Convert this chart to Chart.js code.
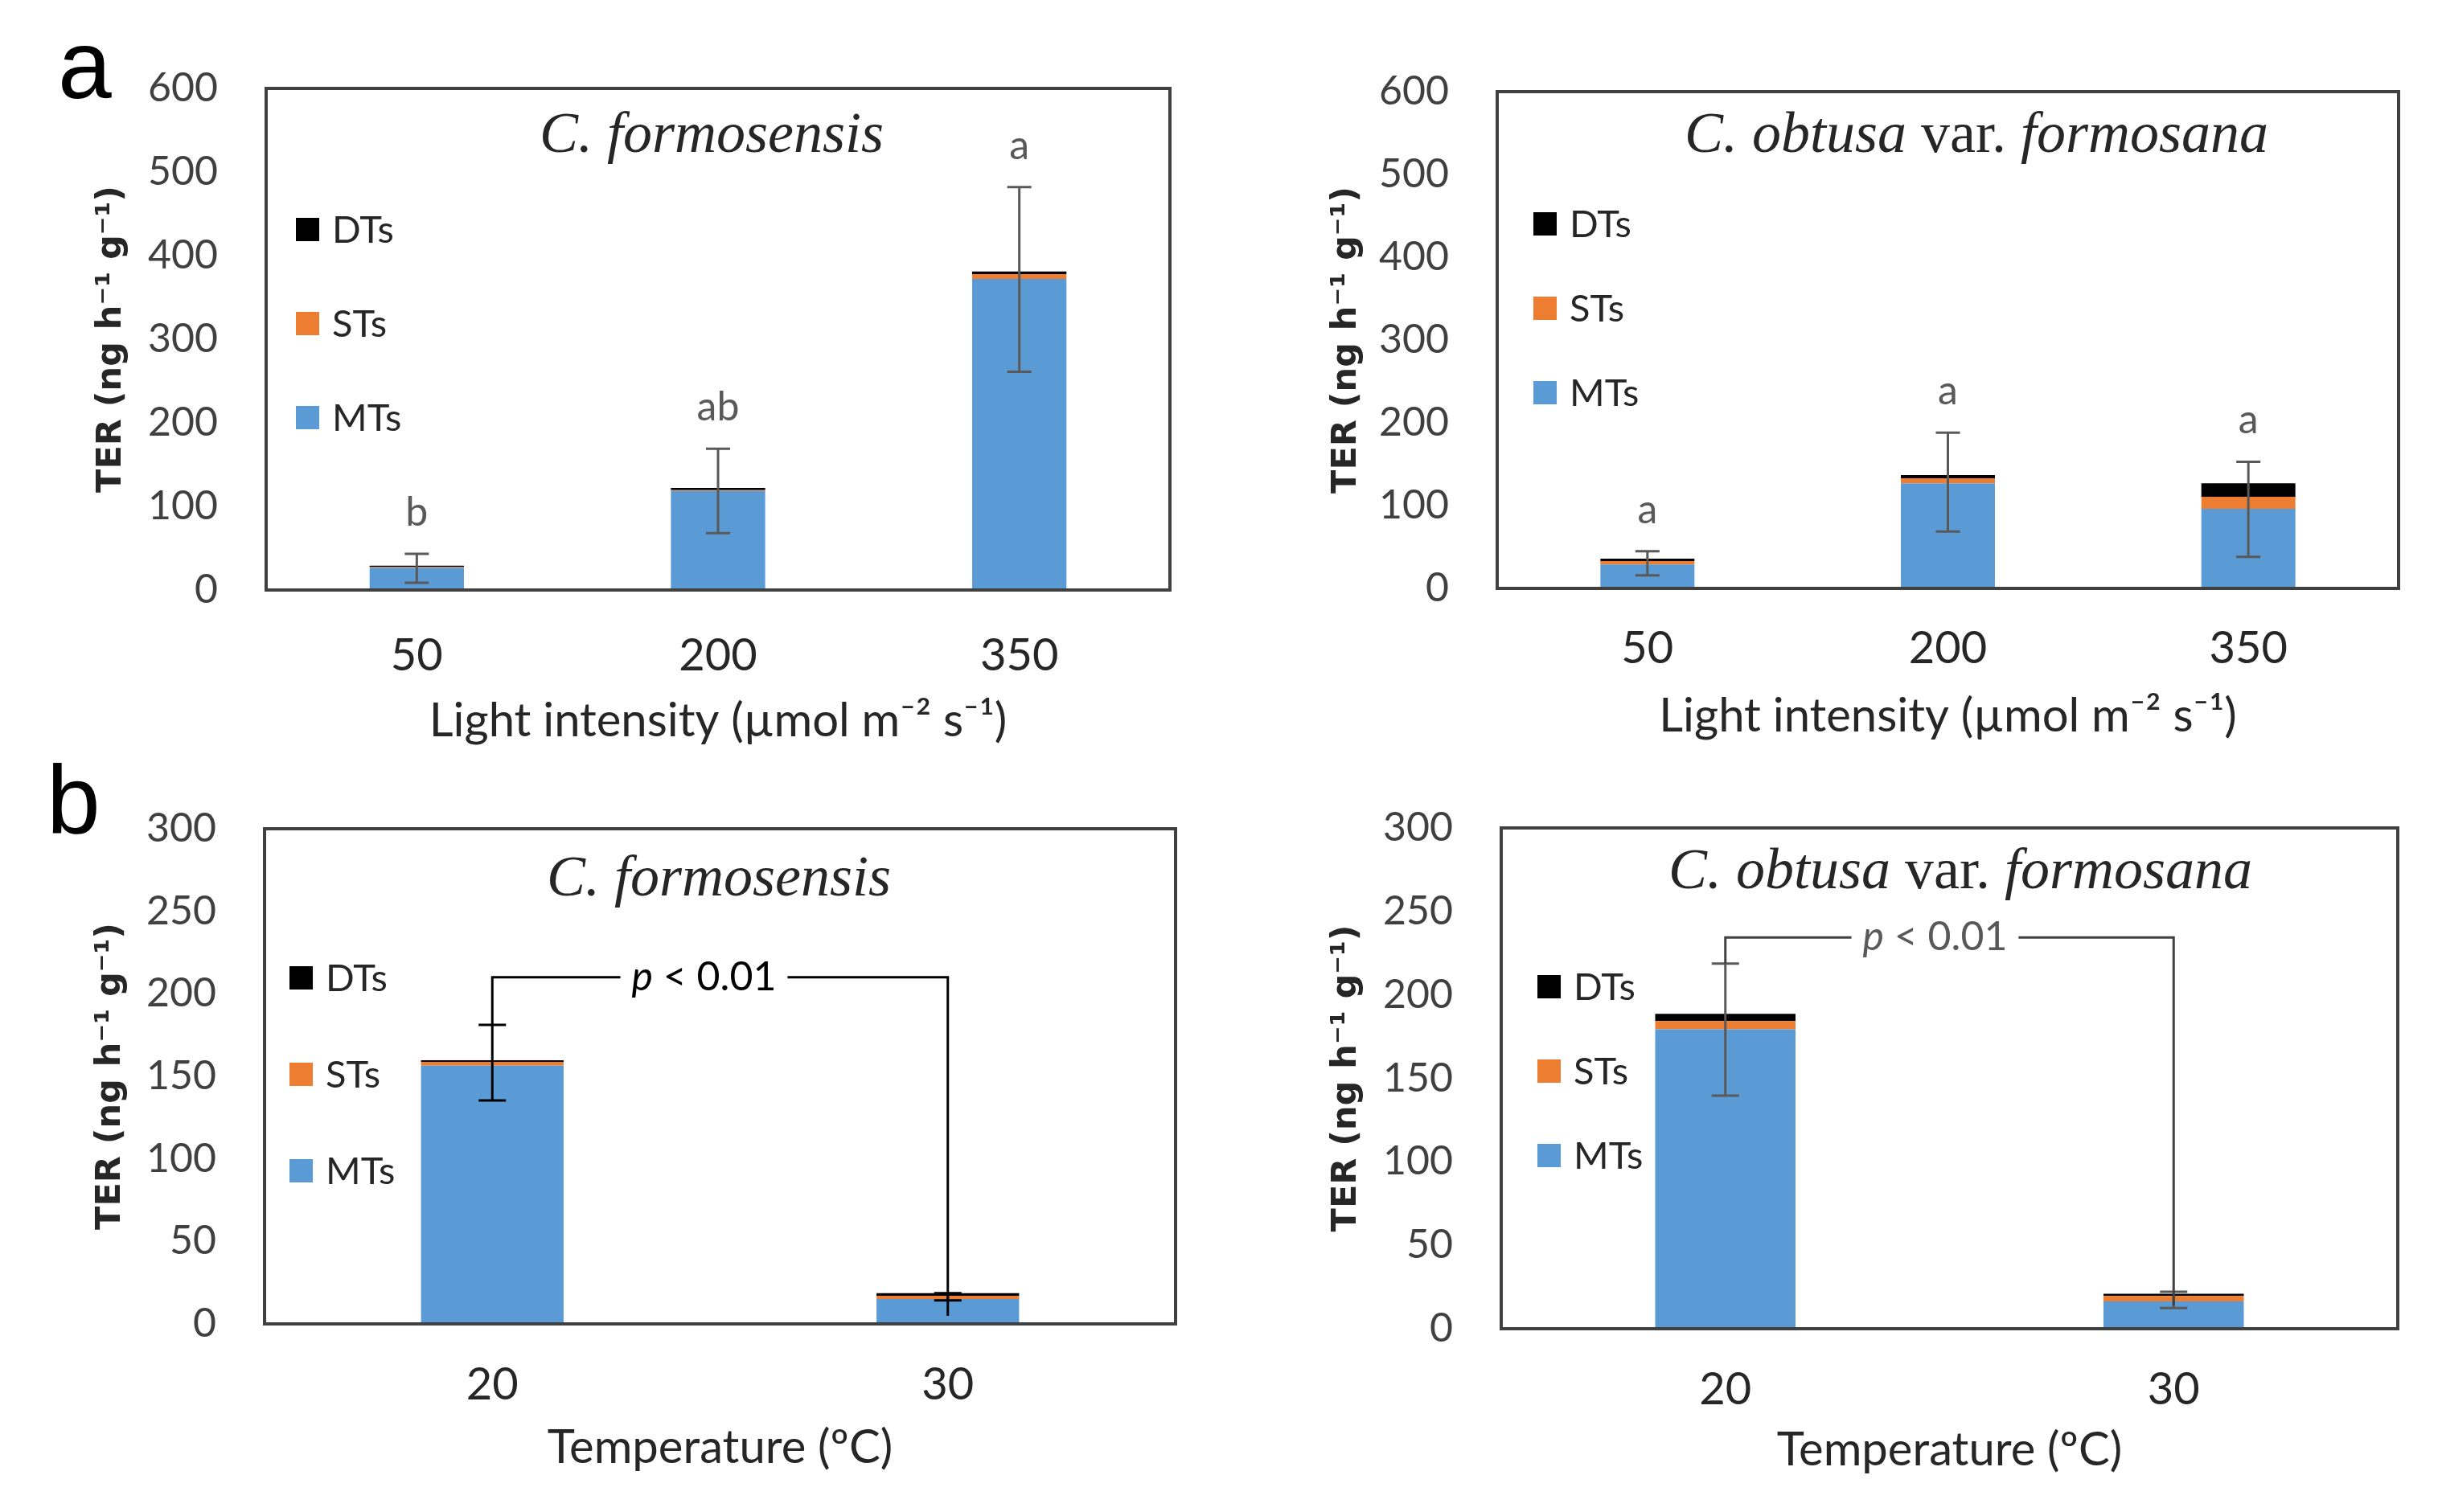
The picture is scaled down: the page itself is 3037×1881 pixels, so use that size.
<!DOCTYPE html>
<html>
<head>
<meta charset="utf-8">
<script src="https://cdn.jsdelivr.net/npm/chart.js@4.4.1/dist/chart.umd.min.js"></script>
<style>
html,body{margin:0;padding:0;background:#fff;width:3037px;height:1881px;overflow:hidden}
canvas{position:absolute;display:block}
</style>
</head>
<body>
<canvas id="aLeft" width="1500" height="940" style="left:0;top:0;width:1500px;height:940px"></canvas>
<canvas id="aRight" width="1537" height="940" style="left:1500px;top:0;width:1537px;height:940px"></canvas>
<canvas id="bLeft" width="1500" height="941" style="left:0;top:940px;width:1500px;height:941px"></canvas>
<canvas id="bRight" width="1537" height="941" style="left:1500px;top:940px;width:1537px;height:941px"></canvas>
<script>
// ---------------- DATA ----------------
const lightLevels = ['50', '200', '350'];
const tempLevels = ['20', '30'];
const seriesNames = ['MTs', 'STs', 'DTs'];
const lightYMax = 600, lightYStep = 100;
const tempYMax = 300, tempYStep = 50;

// (a) C. formosensis, light intensity
const formLightMT = [26.5, 118.5, 372];
const formLightST = [0.8, 1.0, 6];
const formLightDT = [1.7, 2.5, 3];
const formLightErrLow = [8.7, 68, 261];
const formLightErrHigh = [43.3, 169, 482];
const formLightLetters = ['b', 'ab', 'a'];

// (a) C. obtusa var. formosana, light intensity
const obtLightMT = [29, 127, 96];
const obtLightST = [4, 6, 14.7];
const obtLightDT = [3, 4, 16.3];
const obtLightErrLow = [15.7, 68.7, 38];
const obtLightErrHigh = [44.8, 188, 153];
const obtLightLetters = ['a', 'a', 'a'];

// (b) C. formosensis, temperature
const formTempMT = [156.5, 15.1];
const formTempST = [2.3, 2.0];
const formTempDT = [1.0, 1.5];
const formTempErrLow = [135.4, 14.2];
const formTempErrHigh = [181.2, 18.6];
const formTempBracket = 210;        // level of the p-value bracket
const formTempBracketEnd = 4.9;     // lower end of the bracket's right leg

// (b) C. obtusa var. formosana, temperature
const obtTempMT = [179.4, 16.4];
const obtTempST = [4.9, 3.2];
const obtTempDT = [4.3, 1.4];
const obtTempErrLow = [139.6, 12.4];
const obtTempErrHigh = [218.8, 22.1];
const obtTempBracket = 234.4;
const obtTempBracketEnd = 13.8;

const pLabel = ['p', ' < 0.01'];
const yAxisTitle = 'TER (ng h\u207B\u00B9 g\u207B\u00B9)';
const lightAxisTitle = 'Light intensity (\u00B5mol m\u207B\u00B2 s\u207B\u00B9)';
const tempAxisTitle = 'Temperature (\u00BAC)';
const titleForm = [['C. formosensis', true]];
const titleObt = [['C. obtusa', true], [' var. ', false], ['formosana', true]];

// ---------------- STYLE ----------------
const BLUE = '#5B9BD5', ORANGE = '#ED7D31', BLACK = '#000000';
const SANS = "Lato, 'Liberation Sans', sans-serif";

function makeChart(id, cfg) {
  const canvas = document.getElementById(id);
  const W = canvas.width, H = canvas.height;
  const A = cfg.area;
  const decor = {
    id: 'decor',
    afterDatasetsDraw(chart) {
      const ctx = chart.ctx, ca = chart.chartArea;
      const xs = chart.scales.x, ys = chart.scales.y;
      ctx.save();
      // error bars
      ctx.strokeStyle = cfg.errColor; ctx.lineWidth = 3; ctx.lineCap = 'butt';
      cfg.errLow.forEach((lo, i) => {
        const x = xs.getPixelForValue(i);
        const y1 = ys.getPixelForValue(lo), y2 = ys.getPixelForValue(cfg.errHigh[i]);
        const c = cfg.cap;
        ctx.beginPath();
        ctx.moveTo(x, y1); ctx.lineTo(x, y2);
        ctx.moveTo(x - c, y1); ctx.lineTo(x + c, y1);
        ctx.moveTo(x - c, y2); ctx.lineTo(x + c, y2);
        ctx.stroke();
      });
      // significance letters
      if (cfg.letters) {
        ctx.fillStyle = '#595959';
        ctx.font = '50px ' + SANS;
        ctx.textAlign = 'center'; ctx.textBaseline = 'alphabetic';
        cfg.letters.forEach((t, i) => {
          ctx.fillText(t, xs.getPixelForValue(i), ys.getPixelForValue(cfg.errHigh[i]) - 35);
        });
      }
      // p-value bracket
      if (cfg.bracket !== undefined) {
        const x0 = xs.getPixelForValue(0), x1 = xs.getPixelForValue(1);
        const yb = ys.getPixelForValue(cfg.bracket);
        const yl = ys.getPixelForValue(cfg.errHigh[0]);
        const yr = ys.getPixelForValue(cfg.bracketEnd);
        ctx.font = 'italic 50px ' + SANS;
        const w1 = ctx.measureText(pLabel[0]).width;
        ctx.font = '50px ' + SANS;
        const w2 = ctx.measureText(pLabel[1]).width;
        const tw = w1 + w2;
        const xm = (x0 + x1) / 2 + cfg.pShift;
        const gap = 14;
        ctx.strokeStyle = cfg.bracketColor; ctx.lineWidth = 3;
        ctx.beginPath();
        ctx.moveTo(x0, yl); ctx.lineTo(x0, yb); ctx.lineTo(xm - tw / 2 - gap, yb);
        ctx.moveTo(xm + tw / 2 + gap, yb); ctx.lineTo(x1, yb); ctx.lineTo(x1, yr);
        ctx.stroke();
        ctx.fillStyle = cfg.pColor; ctx.textBaseline = 'middle'; ctx.textAlign = 'left';
        ctx.font = 'italic 50px ' + SANS;
        ctx.fillText(pLabel[0], xm - tw / 2, yb);
        ctx.font = '50px ' + SANS;
        ctx.fillText(pLabel[1], xm - tw / 2 + w1, yb);
      }
      // frame
      ctx.strokeStyle = '#404040'; ctx.lineWidth = 4;
      ctx.strokeRect(ca.left, ca.top, ca.right - ca.left, ca.bottom - ca.top);
      // title
      let tot = 0;
      const segs = cfg.title.map(([t, it]) => {
        ctx.font = (it ? 'italic ' : '') + "72px 'Liberation Serif', serif";
        const w = ctx.measureText(t).width; tot += w; return [t, it, w];
      });
      let tx = cfg.titleX - tot / 2;
      ctx.fillStyle = '#262626'; ctx.textBaseline = 'middle'; ctx.textAlign = 'left';
      segs.forEach(([t, it, w]) => {
        ctx.font = (it ? 'italic ' : '') + "72px 'Liberation Serif', serif";
        ctx.fillText(t, tx, ca.top + cfg.titleDy); tx += w;
      });
      // legend (DTs, STs, MTs top to bottom)
      const order = [2, 1, 0];
      ctx.font = '47px ' + SANS; ctx.textBaseline = 'middle';
      order.forEach((di, k) => {
        const ds = chart.data.datasets[di];
        const y = ca.top + cfg.legTop + k * cfg.legStep;
        const bx = ca.left + cfg.legDx;
        ctx.fillStyle = ds.backgroundColor;
        ctx.fillRect(bx, y - 14, 29, 29);
        ctx.fillStyle = '#262626';
        ctx.fillText(ds.label, bx + 45, y + 2);
      });
      // panel label
      if (cfg.panel) {
        ctx.fillStyle = '#000';
        ctx.font = "120px 'Liberation Sans', Arial, sans-serif";
        ctx.textBaseline = 'alphabetic'; ctx.textAlign = 'left';
        ctx.fillText(cfg.panel[0], cfg.panel[1], cfg.panel[2]);
      }
      ctx.restore();
    }
  };
  return new Chart(canvas, {
    type: 'bar',
    data: {
      labels: cfg.labels,
      datasets: [
        { label: seriesNames[0], data: cfg.mt, backgroundColor: BLUE },
        { label: seriesNames[1], data: cfg.st, backgroundColor: ORANGE },
        { label: seriesNames[2], data: cfg.dt, backgroundColor: BLACK }
      ]
    },
    options: {
      responsive: false, devicePixelRatio: 1, animation: false,
      datasets: { bar: { categoryPercentage: 1, barPercentage: 0.313, borderWidth: 0 } },
      layout: { padding: { left: 0, top: A.T, right: W - A.R, bottom: 0 } },
      plugins: { legend: { display: false }, tooltip: { enabled: false }, title: { display: false } },
      scales: {
        x: {
          stacked: true,
          grid: { display: false, drawTicks: false }, border: { display: false },
          ticks: { color: '#262626', font: { family: SANS, size: 56 }, padding: cfg.xTickDy - 0.6 * 56 },
          title: { display: true, text: cfg.xTitle, color: '#262626', font: { family: SANS, size: 58 },
                   padding: { top: 0, bottom: (H - A.B) - cfg.xTitleDy - 0.6 * 58 } },
          afterFit: s => { s.height = H - A.B; }
        },
        y: {
          stacked: true, min: 0, max: cfg.ymax,
          grid: { display: false, drawTicks: false }, border: { display: false },
          ticks: { stepSize: cfg.ystep, color: '#404040', font: { family: SANS, size: 50 }, padding: 60 },
          title: { display: true, text: yAxisTitle, color: '#262626',
                   font: { family: "'DejaVu Sans', sans-serif", size: 43, weight: 'bold' },
                   padding: { top: cfg.yTitleX - 0.6 * 43, bottom: 0 } },
          afterFit: s => { s.width = A.L; }
        }
      }
    },
    plugins: [decor]
  });
}

makeChart('aLeft', {
  labels: lightLevels, mt: formLightMT, st: formLightST, dt: formLightDT,
  errLow: formLightErrLow, errHigh: formLightErrHigh, letters: formLightLetters,
  ymax: lightYMax, ystep: lightYStep, xTitle: lightAxisTitle, title: titleForm,
  area: { L: 331, T: 110, R: 1455, B: 734 }, xTickDy: 82, xTitleDy: 163, yTitleX: 139,
  titleX: 885, titleDy: 60, legTop: 175, legStep: 117, legDx: 37,
  errColor: '#595959', cap: 15, panel: ['a', 72, 122]
});
makeChart('aRight', {
  labels: lightLevels, mt: obtLightMT, st: obtLightST, dt: obtLightDT,
  errLow: obtLightErrLow, errHigh: obtLightErrHigh, letters: obtLightLetters,
  ymax: lightYMax, ystep: lightYStep, xTitle: lightAxisTitle, title: titleObt,
  area: { L: 362, T: 114, R: 1483, B: 732 }, xTickDy: 75, xTitleDy: 159, yTitleX: 175,
  titleX: 958, titleDy: 56, legTop: 164, legStep: 105, legDx: 45,
  errColor: '#595959', cap: 15
});
makeChart('bLeft', {
  labels: tempLevels, mt: formTempMT, st: formTempST, dt: formTempDT,
  errLow: formTempErrLow, errHigh: formTempErrHigh,
  bracket: formTempBracket, bracketEnd: formTempBracketEnd, bracketColor: '#000000', pColor: '#000000', pShift: -20,
  ymax: tempYMax, ystep: tempYStep, xTitle: tempAxisTitle, title: titleForm,
  area: { L: 329, T: 91, R: 1462, B: 707 }, xTickDy: 76, xTitleDy: 154, yTitleX: 138,
  titleX: 894, titleDy: 64, legTop: 185, legStep: 120, legDx: 31,
  errColor: '#000000', cap: 17, panel: ['b', 58, 96]
});
makeChart('bRight', {
  labels: tempLevels, mt: obtTempMT, st: obtTempST, dt: obtTempDT,
  errLow: obtTempErrLow, errHigh: obtTempErrHigh,
  bracket: obtTempBracket, bracketEnd: obtTempBracketEnd, bracketColor: '#404040', pColor: '#595959', pShift: -18,
  ymax: tempYMax, ystep: tempYStep, xTitle: tempAxisTitle, title: titleObt,
  area: { L: 367, T: 90, R: 1482, B: 713 }, xTickDy: 76, xTitleDy: 151, yTitleX: 175,
  titleX: 938, titleDy: 56, legTop: 197, legStep: 105, legDx: 45,
  errColor: '#595959', cap: 17
});
</script>
</body>
</html>
